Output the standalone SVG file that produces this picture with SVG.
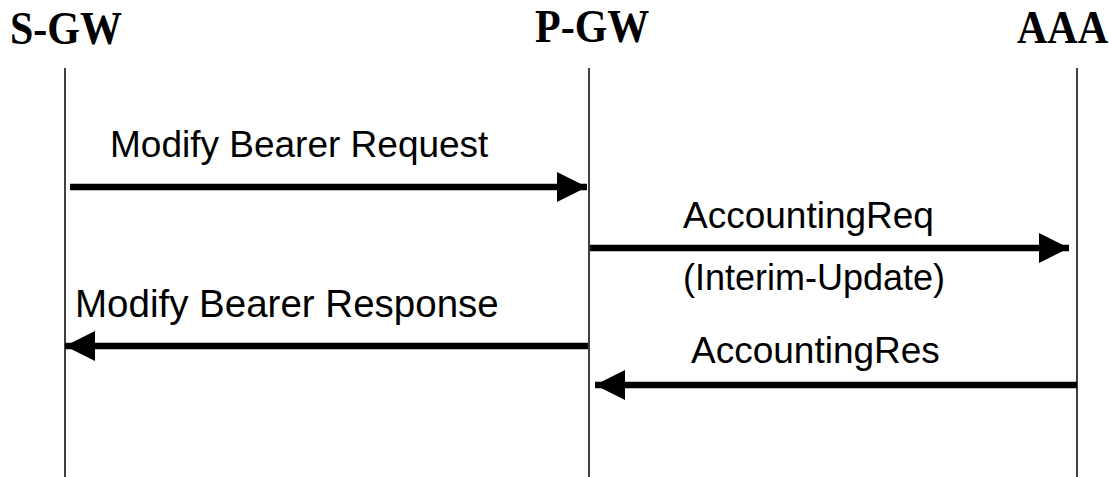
<svg xmlns="http://www.w3.org/2000/svg" width="1109" height="477" viewBox="0 0 1109 477">
<style>
.head{font-family:"Liberation Serif",serif;font-weight:bold;font-size:42px;fill:#000}
.lbl{font-family:"Liberation Sans",sans-serif;font-size:37px;fill:#000}
.life{stroke:#000;stroke-width:1.5}
.msg{stroke:#000;stroke-width:6.5;fill:none}
</style>
<defs>
<marker id="ah" markerUnits="userSpaceOnUse" markerWidth="30" markerHeight="30" viewBox="0 0 28 28" refX="28" refY="14" orient="auto">
<path d="M0,0 L28,14 L0,28 Z" fill="#000"/>
</marker>
</defs>
<rect width="1109" height="477" fill="#fff"/>
<g id="sgw"><text class="head" transform="translate(10,44) scale(1,1.08)">S-GW</text><line class="life" x1="65" y1="68" x2="65" y2="477"/></g>
<g id="pgw"><text class="head" transform="translate(535,42) scale(1,1.08)">P-GW</text><line class="life" x1="589" y1="68" x2="589" y2="477"/></g>
<g id="aaa"><text class="head" transform="translate(1017,43) scale(1,1.08)">AAA</text><line class="life" x1="1077" y1="68" x2="1077" y2="477"/></g>
<g id="connectors">
<line class="msg" x1="70" y1="187" x2="587" y2="187" marker-end="url(#ah)"/>
<line class="msg" x1="590" y1="248" x2="1069" y2="248" marker-end="url(#ah)"/>
<line class="msg" x1="588" y1="346" x2="65" y2="346" marker-end="url(#ah)"/>
<line class="msg" x1="1077" y1="385" x2="595" y2="385" marker-end="url(#ah)"/>
</g>
<g id="labels">
<text class="lbl" x="110" y="157">Modify Bearer Request</text>
<text class="lbl" x="683" y="228">AccountingReq</text>
<text class="lbl" x="683" y="290" style="font-size:36px">(Interim-Update)</text>
<text class="lbl" x="75" y="317" style="font-size:38.5px">Modify Bearer Response</text>
<text class="lbl" x="691" y="363">AccountingRes</text>
</g>
</svg>
